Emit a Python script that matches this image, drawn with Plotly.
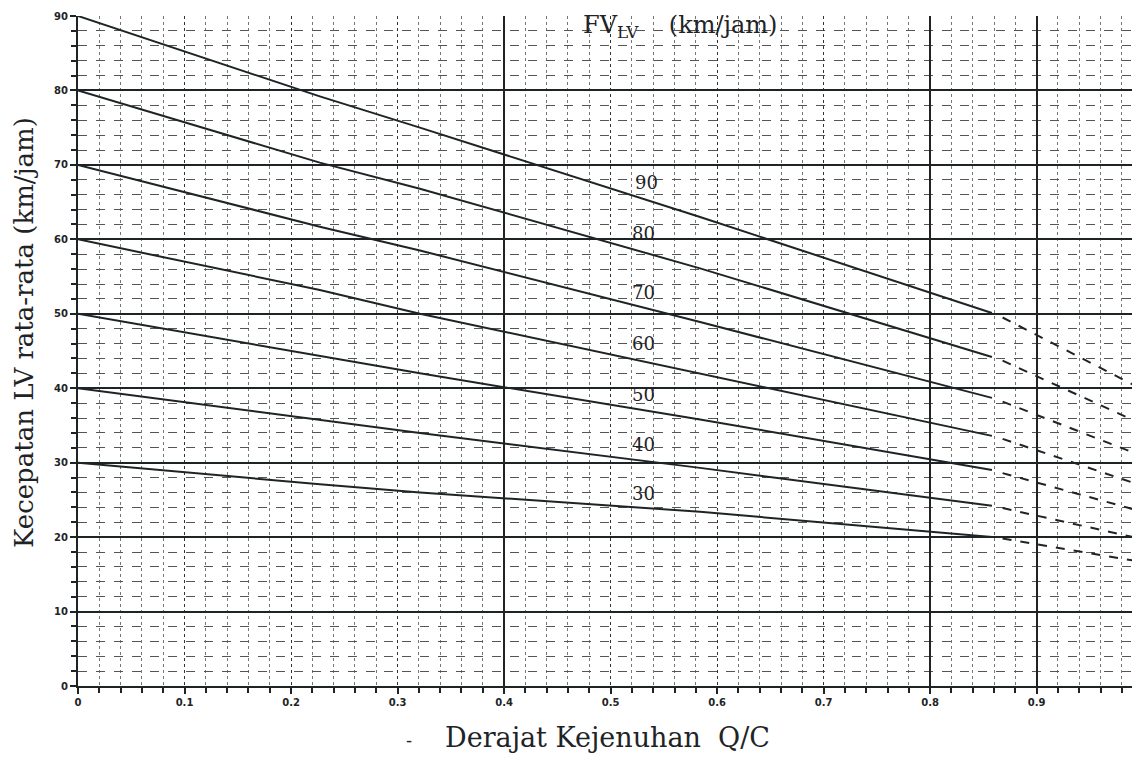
import plotly.graph_objects as go

# ---- data ----
qc_solid = [0, 0.227, 0.321, 0.584, 0.858]
qc_dashed = [0.868, 0.997]
fv_values = [90, 80, 70, 60, 50, 40, 30]

speed_fv90 = [90, 79.2, 75.0, 63.0, 50.1]
speed_fv80 = [80, 70.3, 66.8, 56.1, 44.2]
speed_fv70 = [70, 61.7, 58.5, 48.9, 38.7]
speed_fv60 = [60, 53.2, 50.0, 42.0, 33.6]
speed_fv50 = [50, 44.4, 42.0, 35.8, 29.0]
speed_fv40 = [40, 35.7, 34.0, 29.3, 24.2]
speed_fv30 = [30, 27.1, 26.0, 23.4, 20.0]

ext_fv90 = [49.5, 40.0]
ext_fv80 = [43.7, 35.3]
ext_fv70 = [38.2, 31.0]
ext_fv60 = [33.2, 27.0]
ext_fv50 = [28.6, 23.5]
ext_fv40 = [23.9, 19.8]
ext_fv30 = [19.8, 16.7]

label_x = [0.521, 0.518, 0.518, 0.518, 0.518, 0.518, 0.518]
label_y = [67.7, 60.8, 52.9, 46.0, 39.1, 32.5, 25.8]

x_tick_vals = [0, 0.1, 0.2, 0.3, 0.4, 0.5, 0.6, 0.7, 0.8, 0.9]
x_tick_text = ["0", "0.1", "0.2", "0.3", "0.4", "0.5", "0.6", "0.7", "0.8", "0.9"]
x_solid_grid = [0.4, 0.8, 0.9]
y_tick_vals = [0, 10, 20, 30, 40, 50, 60, 70, 80, 90]

solid_series = [speed_fv90, speed_fv80, speed_fv70, speed_fv60, speed_fv50, speed_fv40, speed_fv30]
dashed_series = [ext_fv90, ext_fv80, ext_fv70, ext_fv60, ext_fv50, ext_fv40, ext_fv30]

INK = "#1e2426"
fig = go.Figure()

for fv, ys in zip(fv_values, solid_series):
    fig.add_trace(go.Scatter(x=qc_solid, y=ys, mode="lines", name=f"FV {fv}",
                             line=dict(color=INK, width=2), showlegend=False))
for fv, ys in zip(fv_values, dashed_series):
    fig.add_trace(go.Scatter(x=qc_dashed, y=ys, mode="lines", name=f"FV {fv} ext",
                             line=dict(color=INK, width=2, dash="dash"), showlegend=False))

# invisible trace to carry the overlay axis (solid verticals)
fig.add_trace(go.Scatter(x=[0, 0.997], y=[0, 0], xaxis="x2", mode="lines",
                         line=dict(width=0), hoverinfo="skip", showlegend=False))

serif = "DejaVu Serif"
for fv, lx, ly in zip(fv_values, label_x, label_y):
    fig.add_annotation(x=lx, y=ly, text=str(fv), showarrow=False,
                       font=dict(family=serif, size=18, color=INK), xanchor="left")

fig.add_annotation(xref="paper", yref="paper", x=0.474, y=1.011,
                   text="FV<sub>LV</sub>&nbsp;&nbsp;&nbsp;&nbsp;(km/jam)",
                   showarrow=False, xanchor="left", yanchor="top",
                   font=dict(family=serif, size=24, color=INK))

fig.add_annotation(xref="paper", yref="paper", x=0.312, y=-0.082,
                   text="-", showarrow=False, xanchor="center", yanchor="middle",
                   font=dict(family=serif, size=18, color=INK))
fig.add_annotation(xref="paper", yref="paper", x=0.344, y=-0.0776,
                   text="Derajat Kejenuhan  Q/C", showarrow=False,
                   xanchor="left", yanchor="middle",
                   font=dict(family=serif, size=27, color=INK))

fig.add_annotation(xref="paper", yref="paper", x=-0.0508, y=0.527,
                   text="Kecepatan LV rata-rata (km/jam)", showarrow=False,
                   textangle=-90, xanchor="center", yanchor="middle",
                   font=dict(family=serif, size=26, color=INK))

# page body has an 8px default margin: size the figure to fill the rest of the window
fig.update_layout(
    width=1132, height=750, autosize=False,
    margin=dict(l=70, r=0, t=8, b=72),
    plot_bgcolor="white", paper_bgcolor="white",
    xaxis=dict(range=[0, 0.997], tickvals=x_tick_vals, ticktext=x_tick_text,
               automargin=False,
               showgrid=True, gridcolor="#333", gridwidth=1.3, griddash="dot",
               ticks="outside", ticklen=6, tickcolor=INK, tickwidth=1.5,
               tickfont=dict(family="DejaVu Sans", size=10, color=INK, weight="bold"),
               minor=dict(dtick=0.02, tick0=0, showgrid=True, gridcolor="#777",
                          griddash="dot", gridwidth=1, ticks="outside", ticklen=5,
                          tickcolor=INK),
               zeroline=False, showline=True, linecolor=INK, linewidth=2, mirror=False),
    xaxis2=dict(range=[0, 0.997], overlaying="x", tickvals=x_solid_grid,
                automargin=False,
                showticklabels=False, ticks="", showgrid=True, gridcolor="#222",
                gridwidth=1.6, zeroline=False, showline=False),
    yaxis=dict(range=[0, 90], tickvals=y_tick_vals, automargin=False,
               showgrid=True, gridcolor="#1e2426", gridwidth=1.7,
               ticks="outside", ticklen=6, tickcolor=INK, tickwidth=1.5,
               tickfont=dict(family="DejaVu Sans", size=10, color=INK, weight="bold"),
               minor=dict(dtick=2, tick0=0, showgrid=True, gridcolor="#555",
                          griddash="dash", gridwidth=1, ticks="outside", ticklen=5,
                          tickcolor=INK),
               zeroline=False, showline=True, linecolor=INK, linewidth=2),
)

fig.write_html("out.html")
